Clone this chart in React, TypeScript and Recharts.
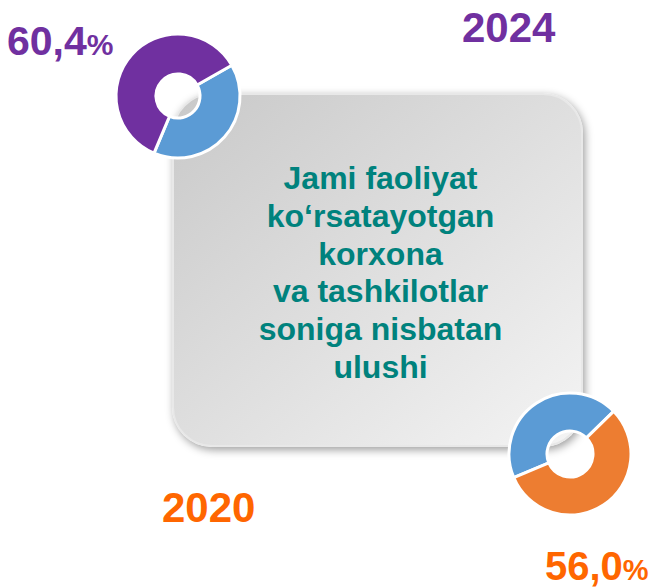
import React from "react";
import { PieChart, Pie, Cell } from "recharts";

// 2024: share of active enterprises (purple) vs rest (blue)
const share2024 = [
  { name: "Boshqa", value: 39.6 },
  { name: "2024", value: 60.4 },
];
const colors2024 = ["#5B9BD5", "#7030A0"];

// 2020: share (orange) vs rest (blue)
const share2020 = [
  { name: "Boshqa", value: 44.0 },
  { name: "2020", value: 56.0 },
];
const colors2020 = ["#5B9BD5", "#ED7D31"];

const titleLines = [
  "Jami faoliyat",
  "ko‘rsatayotgan",
  "korxona",
  "va tashkilotlar",
  "soniga nisbatan",
  "ulushi",
];

const FONT = "'Liberation Sans', Arial, sans-serif";
const PURPLE = "#7030A0";
const ORANGE = "#FF6600";

export default function App() {
  return (
    <div
      style={{
        position: "absolute",
        left: 0,
        top: 0,
        width: 655,
        height: 588,
        background: "#fff",
        overflow: "hidden",
        fontFamily: FONT,
      }}
    >
      {/* rounded grey card */}
      <div
        style={{
          position: "absolute",
          left: 172,
          top: 93,
          width: 411,
          height: 354,
          boxSizing: "border-box",
          borderRadius: 40,
          border: "2px solid #e8e8e8",
          background: "linear-gradient(to bottom right, #c9c9c9, #f4f4f4)",
          boxShadow: "2px 3px 9px rgba(0,0,0,0.38)",
        }}
      />
      <div
        style={{
          position: "absolute",
          left: 175,
          top: 160,
          width: 411,
          textAlign: "center",
          color: "#00827D",
          fontWeight: 700,
          fontSize: 32,
          lineHeight: "37.8px",
        }}
      >
        {titleLines.map((l) => (
          <div key={l}>{l}</div>
        ))}
      </div>

      <div style={{ position: "absolute", left: 0, top: 0 }}>
        <PieChart width={655} height={588} margin={{ top: 0, right: 0, bottom: 0, left: 0 }}>
          <Pie
            data={share2024}
            dataKey="value"
            cx={178}
            cy={96}
            innerRadius={22}
            outerRadius={62}
            startAngle={29.8}
            endAngle={-330.2}
            stroke="#ffffff"
            strokeWidth={3}
            isAnimationActive={false}
          >
            {share2024.map((d, i) => (
              <Cell key={d.name} fill={colors2024[i]} />
            ))}
          </Pie>
          <Pie
            data={share2020}
            dataKey="value"
            cx={570}
            cy={454}
            innerRadius={23}
            outerRadius={61}
            startAngle={202.8}
            endAngle={-157.2}
            stroke="#ffffff"
            strokeWidth={3}
            isAnimationActive={false}
          >
            {share2020.map((d, i) => (
              <Cell key={d.name} fill={colors2020[i]} />
            ))}
          </Pie>
        </PieChart>
      </div>

      <svg
        width={655}
        height={588}
        style={{ position: "absolute", left: 0, top: 0, pointerEvents: "none" }}
      >
        <g fontFamily={FONT} fontWeight={700}>
          <text x={7} y={55} fill={PURPLE} fontSize={41}>
            60,4<tspan fontSize={30}>%</tspan>
          </text>
          <text x={462} y={42} fill={PURPLE} fontSize={42}>
            2024
          </text>
          <text x={162} y={522} fill={ORANGE} fontSize={42}>
            2020
          </text>
          <text x={545} y={580} fill={ORANGE} fontSize={40}>
            56,0<tspan fontSize={29}>%</tspan>
          </text>
        </g>
      </svg>
    </div>
  );
}
